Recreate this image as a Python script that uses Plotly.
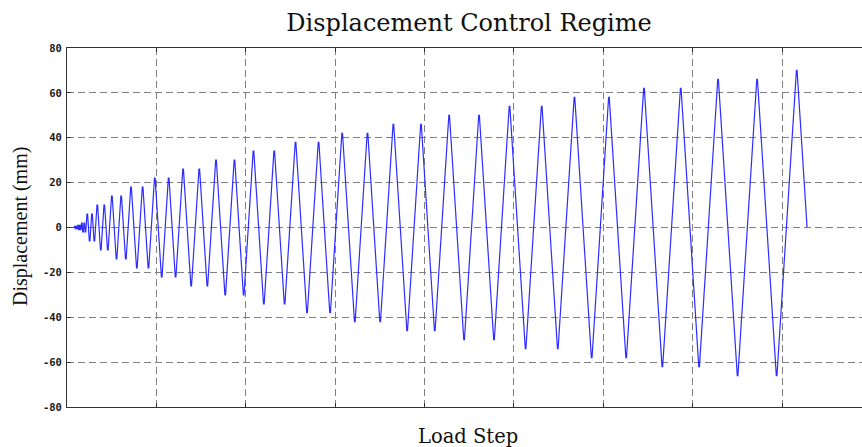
import numpy as np
import plotly.graph_objects as go

# Displacement amplitude (mm) of each loading level, in application order
amplitudes_mm = [0.5, 1, 2, 6, 10, 14, 18, 22, 26, 30, 34, 38, 42, 46, 50, 54, 58, 62, 66, 70]
# Number of full cycles at each level (the last level is a single push, then unload)
cycles_per_level = [2, 2, 2, 2, 2, 2, 2, 2, 2, 2, 2, 2, 2, 2, 2, 2, 2, 2, 2, 0.5]

# Displacement-control settings
increment_mm = 0.25   # displacement applied per load step
hold_steps = 206      # initial load steps held at zero
dwell_steps = 18      # load steps spent at every reversal

# Axis ticks
y_ticks = [-80, -60, -40, -20, 0, 20, 40, 60, 80]
x_grid_step = 2500
x_max = 22232

# Reversal targets of the loading protocol
targets = []
for amp, n in zip(amplitudes_mm, cycles_per_level):
    for k in range(int(round(n * 2))):
        targets.append(amp if k % 2 == 0 else -amp)
targets.append(0.0)

steps = [0.0, float(hold_steps)]
disp = [0.0, 0.0]
current = 0.0
step = float(hold_steps)
for i, t in enumerate(targets):
    step += abs(t - current) / increment_mm
    steps.append(step)
    disp.append(t)
    if i < len(targets) - 1:
        step += dwell_steps
        steps.append(step)
        disp.append(t)
    current = t

fig = go.Figure()
fig.add_trace(go.Scatter(
    x=np.array(steps), y=np.array(disp), mode="lines",
    line=dict(color="rgb(45,45,255)", width=1.2),
    hoverinfo="skip", showlegend=False,
))

grid_kw = dict(showgrid=True, gridcolor="#808080", gridwidth=1, griddash="7px,4px",
               zeroline=False, showline=True, linecolor="#333333", linewidth=1,
               ticks="inside", ticklen=4, tickcolor="#333333")

fig.update_xaxes(range=[0, x_max], tick0=0, dtick=x_grid_step, showticklabels=False,
                 mirror="ticks", **grid_kw)
fig.update_yaxes(range=[-80, 80], tickvals=y_ticks, ticktext=[str(v) for v in y_ticks],
                 tickfont=dict(family="DejaVu Sans Mono", size=10.5, color="#1a1a1a", weight="bold"),
                 ticklabelstandoff=2, mirror=False, **grid_kw)

plot_left, plot_right = 67, 862
plot_top, plot_bottom = 48, 407
pw, ph = plot_right - plot_left, plot_bottom - plot_top

fig.update_layout(
    width=862, height=447,
    margin=dict(l=plot_left, r=862 - plot_right, t=plot_top, b=447 - plot_bottom),
    paper_bgcolor="white", plot_bgcolor="white",
    title=dict(text="Displacement Control Regime", x=(469 - plot_left) / pw, xref="paper",
               y=1 - 23 / 447, yref="container", xanchor="center", yanchor="middle",
               font=dict(family="DejaVu Serif", size=24, color="#111111")),
    annotations=[
        dict(text="Load Step", x=(468 - plot_left) / pw, xref="paper",
             y=(plot_bottom - 436) / ph, yref="paper",
             xanchor="center", yanchor="middle", showarrow=False,
             font=dict(family="DejaVu Serif", size=19.5, color="#111111")),
        dict(text="Displacement (mm)", x=(20 - plot_left) / pw, xref="paper",
             y=(plot_bottom - 227) / ph, yref="paper",
             textangle=-90, showarrow=False, xanchor="center", yanchor="middle",
             font=dict(family="Liberation Serif", size=20, color="#111111")),
    ],
)

fig.write_html("out.html")
